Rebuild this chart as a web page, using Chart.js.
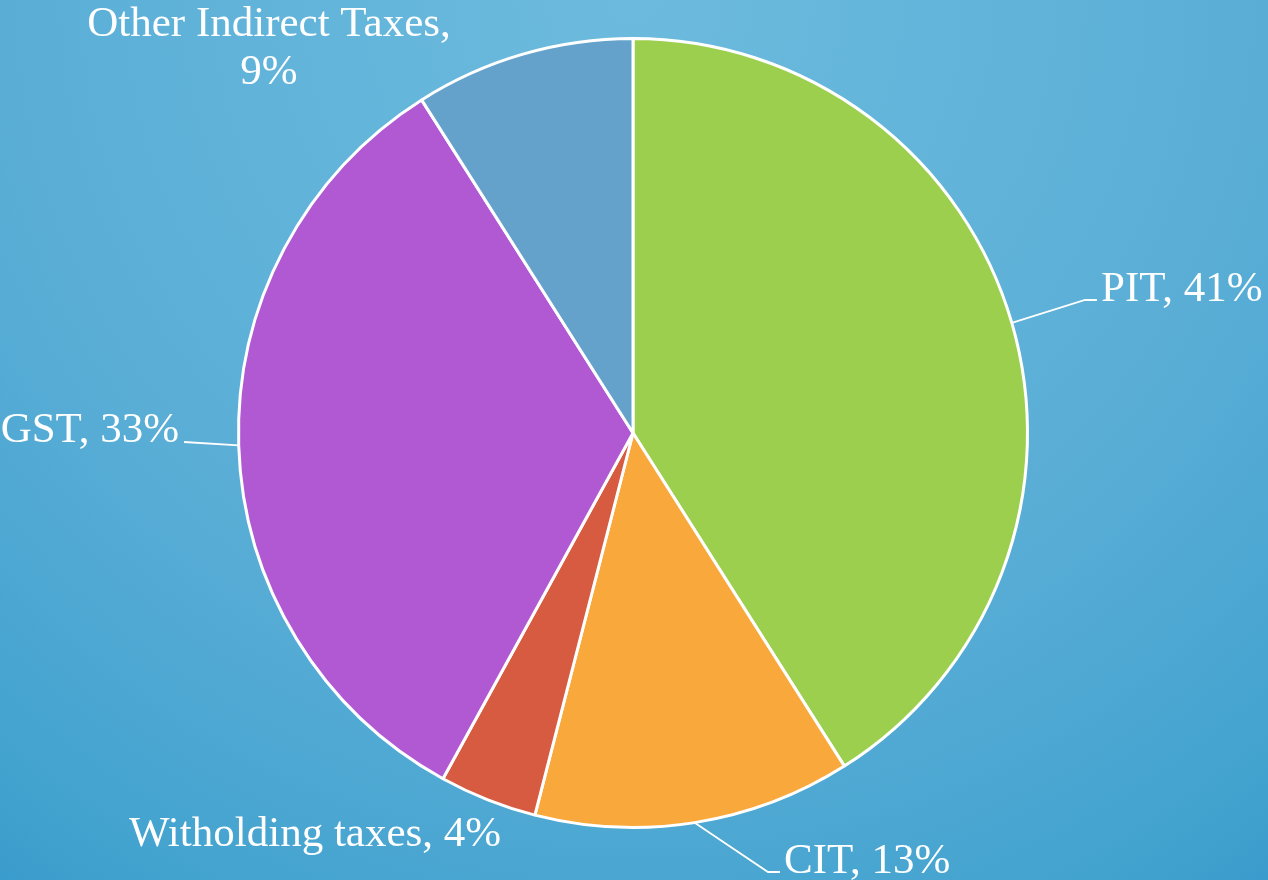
<!DOCTYPE html>
<html>
<head>
<meta charset="utf-8">
<script src="https://cdn.jsdelivr.net/npm/chart.js@4/dist/chart.umd.min.js"></script>
<style>
  html, body { margin: 0; padding: 0; }
  body {
    width: 1268px; height: 880px; overflow: hidden;
    background: radial-gradient(circle farthest-corner at 50% 0%, #6cbbde 0%, #5aaed6 58%, #52aad4 70%, #43a3cf 91%, #3a9ccc 100%);
  }
  #wrap { position: relative; width: 1268px; height: 880px; }
  #probe { position: absolute; left: -9999px; top: 0; font-family: "Liberation Serif"; font-size: 43px; }
</style>
</head>
<body>
<span id="probe">Other Indirect Taxes 0123456789%</span>
<div id="wrap"><canvas id="c" width="1268" height="880"></canvas></div>
<script>
const categories = ["PIT", "CIT", "Witholding taxes", "GST", "Other Indirect Taxes"];
const shares = [41, 13, 4, 33, 9];
const sliceColors = ["#9dcf4f", "#f9a83c", "#d65b40", "#b059d3", "#64a2cc"];

// label layout (text anchor, alignment, optional leader elbow)
const labelLayout = [
  { x: 1101, y: 301, align: "left", elbow: [1085, 300], end: [1097, 300] },
  { x: 784, y: 873, align: "left", elbow: [768, 872], end: [780, 872] },
  { x: 129, y: 846, align: "left" },
  { x: 179, y: 442, align: "right", elbow: [184, 442], end: [184, 442] },
  { x: 269, y: 36, align: "center", lines: true }
];

const FONT = '43px "Liberation Serif", "DejaVu Serif", serif';

const labelPlugin = {
  id: "pieLabels",
  afterDraw(chart) {
    const ctx = chart.ctx;
    const meta = chart.getDatasetMeta(0);
    ctx.save();
    ctx.fillStyle = "#ffffff";
    ctx.strokeStyle = "#ffffff";
    ctx.lineWidth = 1.8;
    ctx.font = FONT;
    ctx.textBaseline = "alphabetic";
    meta.data.forEach((arc, i) => {
      const L = labelLayout[i];
      const mid = (arc.startAngle + arc.endAngle) / 2;
      const sx = arc.x + Math.cos(mid) * arc.outerRadius;
      const sy = arc.y + Math.sin(mid) * arc.outerRadius;
      if (L.elbow) {
        ctx.beginPath();
        ctx.moveTo(sx, sy);
        ctx.lineTo(L.elbow[0], L.elbow[1]);
        ctx.lineTo(L.end[0], L.end[1]);
        ctx.stroke();
      }
      ctx.textAlign = L.align;
      if (L.lines) {
        ctx.fillText(categories[i] + ",", L.x, L.y);
        ctx.fillText(shares[i] + "%", L.x, L.y + 48);
      } else {
        ctx.fillText(categories[i] + ", " + shares[i] + "%", L.x, L.y);
      }
    });
    ctx.restore();
  }
};

function build() {
  new Chart(document.getElementById("c"), {
    type: "pie",
    data: {
      labels: categories,
      datasets: [{
        data: shares,
        backgroundColor: sliceColors,
        borderColor: "#ffffff",
        borderWidth: 3
      }]
    },
    options: {
      responsive: false,
      animation: false,
      rotation: 0,
      layout: { padding: { top: 37, bottom: 51, left: 199, right: 201 } },
      plugins: { legend: { display: false }, tooltip: { enabled: false } }
    },
    plugins: [labelPlugin]
  });
}

if (document.fonts && document.fonts.load) {
  document.fonts.load(FONT, "Other Indirect Taxes, 9%").then(build, build);
} else {
  build();
}
</script>
</body>
</html>
